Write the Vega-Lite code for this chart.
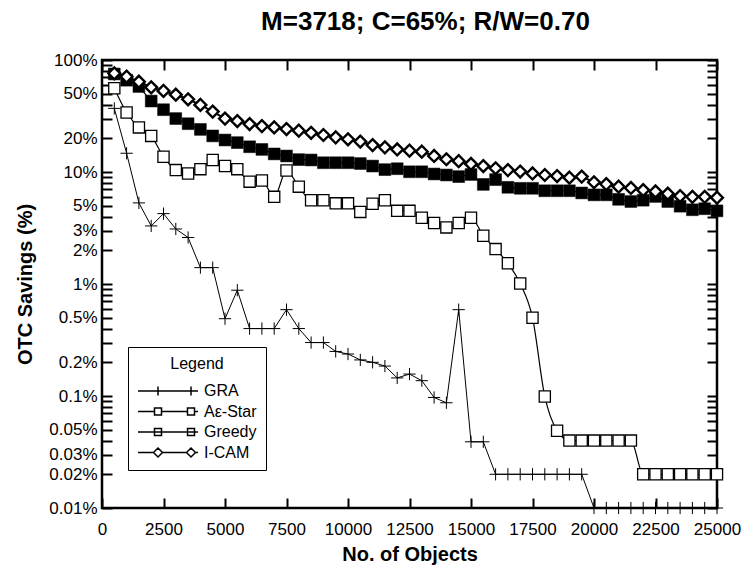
{
  "$schema": "https://vega.github.io/schema/vega-lite/v6.json",
  "width": 615,
  "height": 448,
  "autosize": {"type": "none"},
  "padding": {"left": 102, "top": 60, "right": 27, "bottom": 59},
  "title": {"text": "M=3718; C=65%; R/W=0.70", "anchor": "middle", "frame": "group", "font": "Liberation Sans", "fontSize": 26, "fontWeight": "bold", "color": "black", "dx": 16, "offset": 16},
  "config": {
    "view": {"stroke": "black", "strokeWidth": 2.5},
    "axis": {"domain": false, "grid": false, "tickColor": "black", "tickWidth": 2, "tickSize": -10, "labelFont": "Liberation Sans", "labelFontSize": 17, "labelColor": "black", "titleFont": "Liberation Sans", "titleFontSize": 20, "titleFontWeight": "bold", "titleColor": "black"}
  },
  "datasets": {
    "d": [
      {"s":"GRA","x":500,"y":37},{"s":"GRA","x":1000,"y":14.7},{"s":"GRA","x":1500,"y":5.3},{"s":"GRA","x":2000,"y":3.3},{"s":"GRA","x":2500,"y":4.25},{"s":"GRA","x":3000,"y":3.1},{"s":"GRA","x":3500,"y":2.6},{"s":"GRA","x":4000,"y":1.4},{"s":"GRA","x":4500,"y":1.4},{"s":"GRA","x":5000,"y":0.49},{"s":"GRA","x":5500,"y":0.88},{"s":"GRA","x":6000,"y":0.4},{"s":"GRA","x":6500,"y":0.4},{"s":"GRA","x":7000,"y":0.4},{"s":"GRA","x":7500,"y":0.59},{"s":"GRA","x":8000,"y":0.4},{"s":"GRA","x":8500,"y":0.3},{"s":"GRA","x":9000,"y":0.3},{"s":"GRA","x":9500,"y":0.25},{"s":"GRA","x":10000,"y":0.237},{"s":"GRA","x":10500,"y":0.21},{"s":"GRA","x":11000,"y":0.2},{"s":"GRA","x":11500,"y":0.185},{"s":"GRA","x":12000,"y":0.145},{"s":"GRA","x":12500,"y":0.157},{"s":"GRA","x":13000,"y":0.137},{"s":"GRA","x":13500,"y":0.097},{"s":"GRA","x":14000,"y":0.087},{"s":"GRA","x":14500,"y":0.59},{"s":"GRA","x":15000,"y":0.039},{"s":"GRA","x":15500,"y":0.039},{"s":"GRA","x":16000,"y":0.02},{"s":"GRA","x":16500,"y":0.02},{"s":"GRA","x":17000,"y":0.02},{"s":"GRA","x":17500,"y":0.02},{"s":"GRA","x":18000,"y":0.02},{"s":"GRA","x":18500,"y":0.02},{"s":"GRA","x":19000,"y":0.02},{"s":"GRA","x":19500,"y":0.02},{"s":"GRA","x":20000,"y":0.01},{"s":"GRA","x":20500,"y":0.01},{"s":"GRA","x":21000,"y":0.01},{"s":"GRA","x":21500,"y":0.01},{"s":"GRA","x":22000,"y":0.01},{"s":"GRA","x":22500,"y":0.01},{"s":"GRA","x":23000,"y":0.01},{"s":"GRA","x":23500,"y":0.01},{"s":"GRA","x":24000,"y":0.01},{"s":"GRA","x":24500,"y":0.01},{"s":"GRA","x":25000,"y":0.01},
      {"s":"Aε-Star","x":500,"y":56},{"s":"Aε-Star","x":1000,"y":34},{"s":"Aε-Star","x":1500,"y":25},{"s":"Aε-Star","x":2000,"y":21},{"s":"Aε-Star","x":2500,"y":13.7},{"s":"Aε-Star","x":3000,"y":10.4},{"s":"Aε-Star","x":3500,"y":9.7},{"s":"Aε-Star","x":4000,"y":10.6},{"s":"Aε-Star","x":4500,"y":12.8},{"s":"Aε-Star","x":5000,"y":11.3},{"s":"Aε-Star","x":5500,"y":10.6},{"s":"Aε-Star","x":6000,"y":8.2},{"s":"Aε-Star","x":6500,"y":8.4},{"s":"Aε-Star","x":7000,"y":6.0},{"s":"Aε-Star","x":7500,"y":10.3},{"s":"Aε-Star","x":8000,"y":7.4},{"s":"Aε-Star","x":8500,"y":5.6},{"s":"Aε-Star","x":9000,"y":5.6},{"s":"Aε-Star","x":9500,"y":5.25},{"s":"Aε-Star","x":10000,"y":5.25},{"s":"Aε-Star","x":10500,"y":4.4},{"s":"Aε-Star","x":11000,"y":5.2},{"s":"Aε-Star","x":11500,"y":5.6},{"s":"Aε-Star","x":12000,"y":4.5},{"s":"Aε-Star","x":12500,"y":4.5},{"s":"Aε-Star","x":13000,"y":3.9},{"s":"Aε-Star","x":13500,"y":3.5},{"s":"Aε-Star","x":14000,"y":3.2},{"s":"Aε-Star","x":14500,"y":3.5},{"s":"Aε-Star","x":15000,"y":3.9},{"s":"Aε-Star","x":15500,"y":2.7},{"s":"Aε-Star","x":16000,"y":2.05},{"s":"Aε-Star","x":16500,"y":1.53},{"s":"Aε-Star","x":17000,"y":1.01},{"s":"Aε-Star","x":17500,"y":0.5},{"s":"Aε-Star","x":18000,"y":0.099},{"s":"Aε-Star","x":18500,"y":0.049},{"s":"Aε-Star","x":19000,"y":0.04},{"s":"Aε-Star","x":19500,"y":0.04},{"s":"Aε-Star","x":20000,"y":0.04},{"s":"Aε-Star","x":20500,"y":0.04},{"s":"Aε-Star","x":21000,"y":0.04},{"s":"Aε-Star","x":21500,"y":0.04},{"s":"Aε-Star","x":22000,"y":0.02},{"s":"Aε-Star","x":22500,"y":0.02},{"s":"Aε-Star","x":23000,"y":0.02},{"s":"Aε-Star","x":23500,"y":0.02},{"s":"Aε-Star","x":24000,"y":0.02},{"s":"Aε-Star","x":24500,"y":0.02},{"s":"Aε-Star","x":25000,"y":0.02},
      {"s":"Greedy","x":500,"y":75},{"s":"Greedy","x":1000,"y":66},{"s":"Greedy","x":1500,"y":58},{"s":"Greedy","x":2000,"y":43},{"s":"Greedy","x":2500,"y":36},{"s":"Greedy","x":3000,"y":30},{"s":"Greedy","x":3500,"y":27},{"s":"Greedy","x":4000,"y":24},{"s":"Greedy","x":4500,"y":21},{"s":"Greedy","x":5000,"y":19.3},{"s":"Greedy","x":5500,"y":18.3},{"s":"Greedy","x":6000,"y":16.8},{"s":"Greedy","x":6500,"y":15.9},{"s":"Greedy","x":7000,"y":14.5},{"s":"Greedy","x":7500,"y":13.9},{"s":"Greedy","x":8000,"y":12.9},{"s":"Greedy","x":8500,"y":12.8},{"s":"Greedy","x":9000,"y":12.1},{"s":"Greedy","x":9500,"y":12.1},{"s":"Greedy","x":10000,"y":12.1},{"s":"Greedy","x":10500,"y":11.9},{"s":"Greedy","x":11000,"y":11.3},{"s":"Greedy","x":11500,"y":10.5},{"s":"Greedy","x":12000,"y":10.7},{"s":"Greedy","x":12500,"y":10.05},{"s":"Greedy","x":13000,"y":10.05},{"s":"Greedy","x":13500,"y":9.6},{"s":"Greedy","x":14000,"y":9.4},{"s":"Greedy","x":14500,"y":9.1},{"s":"Greedy","x":15000,"y":9.5},{"s":"Greedy","x":15500,"y":7.75},{"s":"Greedy","x":16000,"y":8.55},{"s":"Greedy","x":16500,"y":7.3},{"s":"Greedy","x":17000,"y":7.15},{"s":"Greedy","x":17500,"y":7.15},{"s":"Greedy","x":18000,"y":6.8},{"s":"Greedy","x":18500,"y":6.8},{"s":"Greedy","x":19000,"y":6.8},{"s":"Greedy","x":19500,"y":6.5},{"s":"Greedy","x":20000,"y":6.25},{"s":"Greedy","x":20500,"y":6.25},{"s":"Greedy","x":21000,"y":5.7},{"s":"Greedy","x":21500,"y":5.45},{"s":"Greedy","x":22000,"y":5.6},{"s":"Greedy","x":22500,"y":6.05},{"s":"Greedy","x":23000,"y":5.45},{"s":"Greedy","x":23500,"y":4.95},{"s":"Greedy","x":24000,"y":4.6},{"s":"Greedy","x":24500,"y":4.7},{"s":"Greedy","x":25000,"y":4.5},
      {"s":"I-CAM","x":500,"y":76},{"s":"I-CAM","x":1000,"y":71},{"s":"I-CAM","x":1500,"y":64},{"s":"I-CAM","x":2000,"y":57},{"s":"I-CAM","x":2500,"y":53},{"s":"I-CAM","x":3000,"y":49},{"s":"I-CAM","x":3500,"y":44.6},{"s":"I-CAM","x":4000,"y":39.7},{"s":"I-CAM","x":4500,"y":34.6},{"s":"I-CAM","x":5000,"y":30},{"s":"I-CAM","x":5500,"y":28.5},{"s":"I-CAM","x":6000,"y":26.8},{"s":"I-CAM","x":6500,"y":25.7},{"s":"I-CAM","x":7000,"y":25},{"s":"I-CAM","x":7500,"y":24.2},{"s":"I-CAM","x":8000,"y":23.4},{"s":"I-CAM","x":8500,"y":22.4},{"s":"I-CAM","x":9000,"y":21.4},{"s":"I-CAM","x":9500,"y":20.4},{"s":"I-CAM","x":10000,"y":19.6},{"s":"I-CAM","x":10500,"y":18.7},{"s":"I-CAM","x":11000,"y":17.4},{"s":"I-CAM","x":11500,"y":16.6},{"s":"I-CAM","x":12000,"y":15.9},{"s":"I-CAM","x":12500,"y":15.5},{"s":"I-CAM","x":13000,"y":15.2},{"s":"I-CAM","x":13500,"y":13.9},{"s":"I-CAM","x":14000,"y":13},{"s":"I-CAM","x":14500,"y":12.5},{"s":"I-CAM","x":15000,"y":11.8},{"s":"I-CAM","x":15500,"y":11.3},{"s":"I-CAM","x":16000,"y":10.8},{"s":"I-CAM","x":16500,"y":10.4},{"s":"I-CAM","x":17000,"y":10.1},{"s":"I-CAM","x":17500,"y":9.7},{"s":"I-CAM","x":18000,"y":9.4},{"s":"I-CAM","x":18500,"y":9.2},{"s":"I-CAM","x":19000,"y":8.9},{"s":"I-CAM","x":19500,"y":9.1},{"s":"I-CAM","x":20000,"y":8.1},{"s":"I-CAM","x":20500,"y":7.8},{"s":"I-CAM","x":21000,"y":7.4},{"s":"I-CAM","x":21500,"y":7.2},{"s":"I-CAM","x":22000,"y":6.9},{"s":"I-CAM","x":22500,"y":6.7},{"s":"I-CAM","x":23000,"y":6.4},{"s":"I-CAM","x":23500,"y":6.1},{"s":"I-CAM","x":24000,"y":6.0},{"s":"I-CAM","x":24500,"y":6.0},{"s":"I-CAM","x":25000,"y":5.9}
    ]
  },
  "data": {"name": "d"},
  "encoding": {
    "x": {"field": "x", "type": "quantitative", "scale": {"domain": [0, 25000], "nice": false, "zero": false}},
    "y": {"field": "y", "type": "quantitative", "scale": {"type": "log", "domain": [0.01, 100], "nice": false}}
  },
  "layer": [
    {
      "transform": [{"filter": "datum.s === 'GRA'"}],
      "mark": {"type": "line", "color": "black", "strokeWidth": 1},
      "encoding": {
        "x": {"field": "x", "type": "quantitative", "axis": {"orient": "bottom", "title": "No. of Objects", "values": [0,2500,5000,7500,10000,12500,15000,17500,20000,22500,25000], "format": "d", "labelPadding": 23, "titlePadding": 7, "labelOverlap": false, "labelFlush": false}},
        "y": {"field": "y", "type": "quantitative", "axis": {"orient": "left", "title": "OTC Savings (%)", "values": [0.01,0.02,0.03,0.04,0.05,0.06,0.07,0.08,0.09,0.1,0.2,0.3,0.4,0.5,0.6,0.7,0.8,0.9,1,2,3,4,5,6,7,8,9,10,20,30,40,50,60,70,80,90,100], "labelExpr": "indexof([100,50,20,10,5,3,2,1,0.5,0.2,0.1,0.05,0.03,0.02,0.01], datum.value) >= 0 ? format(datum.value, '~g') + '%' : ''", "labelOverlap": false, "labelFlush": false, "labelPadding": 15, "titlePadding": 13}}
      }
    },
    {
      "transform": [{"filter": "datum.s === 'GRA'"}],
      "mark": {"type": "point", "shape": "M-1,0L1,0M0,-1L0,1", "size": 150, "filled": false, "stroke": "black", "strokeWidth": 1, "opacity": 1},
      "encoding": {
        "x": {"field": "x", "type": "quantitative", "axis": {"orient": "top", "title": null, "labels": false, "values": [0,2500,5000,7500,10000,12500,15000,17500,20000,22500,25000]}},
        "y": {"field": "y", "type": "quantitative", "axis": {"orient": "right", "title": null, "labels": false, "values": [0.01,0.02,0.03,0.04,0.05,0.06,0.07,0.08,0.09,0.1,0.2,0.3,0.4,0.5,0.6,0.7,0.8,0.9,1,2,3,4,5,6,7,8,9,10,20,30,40,50,60,70,80,90,100]}}
      }
    },
    {
      "transform": [{"filter": "datum.s === 'Aε-Star'"}],
      "mark": {"type": "line", "color": "black", "strokeWidth": 1.2, "interpolate": "monotone"},
      "encoding": {"x": {"field": "x", "type": "quantitative", "axis": null}, "y": {"field": "y", "type": "quantitative", "axis": null}}
    },
    {
      "transform": [{"filter": "datum.s === 'Aε-Star'"}],
      "mark": {"type": "point", "shape": "square", "size": 125, "filled": true, "fill": "white", "stroke": "black", "strokeWidth": 1.3, "opacity": 1},
      "encoding": {"x": {"field": "x", "type": "quantitative", "axis": null}, "y": {"field": "y", "type": "quantitative", "axis": null}}
    },
    {
      "transform": [{"filter": "datum.s === 'Greedy'"}],
      "mark": {"type": "line", "color": "black", "strokeWidth": 1.2},
      "encoding": {"x": {"field": "x", "type": "quantitative", "axis": null}, "y": {"field": "y", "type": "quantitative", "axis": null}}
    },
    {
      "transform": [{"filter": "datum.s === 'Greedy'"}],
      "mark": {"type": "point", "shape": "square", "size": 140, "filled": true, "fill": "black", "stroke": "black", "strokeWidth": 0.5, "opacity": 1},
      "encoding": {"x": {"field": "x", "type": "quantitative", "axis": null}, "y": {"field": "y", "type": "quantitative", "axis": null}}
    },
    {
      "transform": [{"filter": "datum.s === 'I-CAM'"}],
      "mark": {"type": "line", "color": "black", "strokeWidth": 2},
      "encoding": {"x": {"field": "x", "type": "quantitative", "axis": null}, "y": {"field": "y", "type": "quantitative", "axis": null}}
    },
    {
      "transform": [{"filter": "datum.s === 'I-CAM'"}],
      "mark": {"type": "point", "shape": "diamond", "size": 140, "filled": true, "fill": "white", "stroke": "black", "strokeWidth": 2.4, "opacity": 1},
      "encoding": {"x": {"field": "x", "type": "quantitative", "axis": null}, "y": {"field": "y", "type": "quantitative", "axis": null}}
    },
    {
      "mark": {"type": "point", "filled": true, "stroke": "black", "opacity": 0},
      "encoding": {
        "x": {"field": "x", "type": "quantitative", "axis": null},
        "y": {"field": "y", "type": "quantitative", "axis": null},
        "fill": {"field": "s", "type": "nominal", "scale": {"domain": ["GRA", "Aε-Star", "Greedy", "I-CAM"], "range": ["white", "white", "black", "white"]}},
        "shape": {
          "field": "s", "type": "nominal",
          "scale": {
            "domain": ["GRA", "Aε-Star", "Greedy", "I-CAM"],
            "range": [
              "M-3,0L3,0M-1,-0.45L-1,0.45M2.3,-0.45L2.3,0.45",
              "M-3,0L-1.35,0M-0.65,0L1.95,0M2.65,0L3,0M-1.35,-0.35L-0.65,-0.35L-0.65,0.35L-1.35,0.35ZM1.95,-0.35L2.65,-0.35L2.65,0.35L1.95,0.35Z",
              "M-3,0L3,0M-1.35,-0.35L-0.65,-0.35L-0.65,0.35L-1.35,0.35ZM1.95,-0.35L2.65,-0.35L2.65,0.35L1.95,0.35Z",
              "M-3,0L-1.45,0M-0.55,0L1.85,0M2.75,0L3,0M-1.45,0L-1,-0.45L-0.55,0L-1,0.45ZM1.85,0L2.3,-0.45L2.75,0L2.3,0.45Z"
            ]
          },
          "legend": {
            "orient": "none", "legendX": 26, "legendY": 287,
            "title": "Legend", "titleFont": "Liberation Sans", "titleFontSize": 16, "titleFontWeight": "normal", "titleColor": "black", "titleAnchor": "middle", "titleAlign": "center", "titlePadding": 8,
            "labelFont": "Liberation Sans", "labelFontSize": 16, "labelColor": "black", "labelOffset": 25,
            "symbolSize": 400, "symbolOffset": 20, "strokeColor": "black", "fillColor": "white", "padding": 9, "rowPadding": 1.5,
            "encode": {
              "legend": {"update": {"strokeWidth": {"value": 2}}},
              "symbols": {"update": {
                "stroke": {"value": "black"},
                "strokeWidth": {"signal": "datum.value === 'I-CAM' ? 2 : 1"},
                "opacity": {"value": 1},
                "fillOpacity": {"value": 1},
                "strokeOpacity": {"value": 1},
                "size": {"value": 400}
              }}
            }
          }
        }
      }
    }
  ],
  "resolve": {"axis": {"x": "independent", "y": "independent"}}
}
